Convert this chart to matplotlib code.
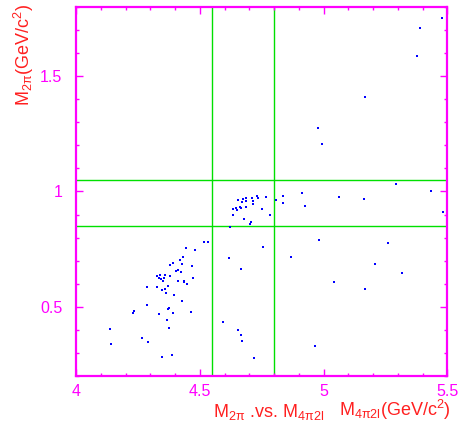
import matplotlib
matplotlib.use('Agg')
import matplotlib.pyplot as plt
from matplotlib.ticker import MultipleLocator, FuncFormatter

plt.rcParams['font.family'] = ['Liberation Sans', 'DejaVu Sans']
plt.rcParams['mathtext.fontset'] = 'custom'
plt.rcParams['mathtext.rm'] = 'Liberation Sans'
plt.rcParams['mathtext.it'] = 'Liberation Sans'
plt.rcParams['mathtext.default'] = 'regular'

# events: M(4pi 2l) on x, M(2pi) on y
m4pi2l = [4.620, 4.654, 4.671, 4.675, 4.687, 4.686, 4.711, 4.715, 4.732, 4.735,
          4.768, 4.837, 4.808, 4.836, 4.914, 4.925, 4.634, 4.646, 4.650, 4.662,
          4.666, 4.686, 4.715, 4.751, 4.633, 4.783, 4.677, 4.701, 4.705,
          5.294, 5.435, 5.483, 5.063, 5.164, 4.983, 5.258, 4.869, 5.208, 5.317,
          5.041, 5.166, 4.964, 4.756, 4.618, 4.666, 4.594, 4.654, 4.666, 4.669,
          4.717, 4.979, 4.994, 5.167, 5.375, 5.389, 5.479,
          4.518, 4.534, 4.445, 4.481, 4.432, 4.420, 4.392, 4.379, 4.428, 4.468,
          4.403, 4.411, 4.423, 4.379, 4.359, 4.338, 4.326, 4.334, 4.342, 4.354,
          4.350, 4.471, 4.411, 4.435, 4.435, 4.447, 4.370, 4.329, 4.361, 4.285,
          4.349, 4.365, 4.397, 4.429, 4.288, 4.376, 4.372, 4.235, 4.230, 4.336,
          4.392, 4.465, 4.367, 4.375, 4.137, 4.143, 4.265, 4.289, 4.349, 4.386]
m2pi = [0.848, 0.964, 0.955, 0.968, 0.972, 0.959, 0.971, 0.958, 0.980, 0.971,
        0.975, 0.982, 0.961, 0.952, 0.994, 0.937, 0.925, 0.929, 0.920, 0.933,
        0.929, 0.933, 0.945, 0.923, 0.899, 0.897, 0.881, 0.859, 0.868,
        1.031, 1.002, 0.910, 0.974, 0.968, 0.789, 0.776, 0.717, 0.686, 0.645,
        0.606, 0.578, 0.330, 0.758, 0.713, 0.665, 0.436, 0.401, 0.379, 0.353,
        0.278, 1.274, 1.205, 1.410, 1.588, 1.709, 1.751,
        0.780, 0.780, 0.755, 0.746, 0.716, 0.703, 0.691, 0.683, 0.686, 0.677,
        0.656, 0.661, 0.652, 0.635, 0.640, 0.640, 0.632, 0.627, 0.619, 0.623,
        0.614, 0.625, 0.613, 0.613, 0.608, 0.599, 0.592, 0.588, 0.579, 0.585,
        0.571, 0.562, 0.552, 0.526, 0.507, 0.497, 0.492, 0.482, 0.473, 0.467,
        0.475, 0.478, 0.445, 0.410, 0.406, 0.340, 0.364, 0.346, 0.285, 0.293]

# signal window cuts
cut_x = [4.55, 4.8]
cut_y = [0.85, 1.05]

magenta = '#ff00ff'
red = '#ff2020'

fig = plt.figure(figsize=(4.58, 4.25), dpi=100)
ax = fig.add_axes([0.166, 0.115, 0.811, 0.869])

for xc in cut_x:
    ax.axvline(xc, color='#00e000', lw=1.0, zorder=1)
for yc in cut_y:
    ax.axhline(yc, color='#00e000', lw=1.0, zorder=1)

ax.scatter(m4pi2l, m2pi, s=3.5, marker='s', color='#0000ff', linewidths=0, zorder=3)

ax.set_xlim(4.0, 5.5)
ax.set_ylim(0.2, 1.8)

ax.xaxis.set_major_locator(MultipleLocator(0.5))
ax.xaxis.set_minor_locator(MultipleLocator(0.1))
ax.yaxis.set_major_locator(MultipleLocator(0.5))
ax.yaxis.set_minor_locator(MultipleLocator(0.1))
fmt = FuncFormatter(lambda v, p: '%g' % v)
ax.xaxis.set_major_formatter(fmt)
ax.yaxis.set_major_formatter(fmt)

for s in ax.spines.values():
    s.set_color(magenta)
    s.set_linewidth(1.6)
ax.tick_params(which='both', direction='in', top=True, right=True,
               color=magenta, labelcolor=magenta, labelsize=11.5, width=1.0)
ax.tick_params(which='major', length=5)
ax.tick_params(which='minor', length=2.5)
ax.tick_params(axis='x', pad=6)
ax.tick_params(axis='y', pad=10)

fig.text(0.052, 0.99, r'M$_{2\pi}$(GeV/c$^2$)', rotation=90, ha='center', va='top',
         color=red, fontsize=13)
fig.text(0.465, 0.02, r'M$_{2\pi}$ .vs. M$_{4\pi 2l}$', ha='left', va='baseline',
         color=red, fontsize=13)
fig.text(0.984, 0.02, r'M$_{4\pi 2l}$(GeV/c$^2$)', ha='right', va='baseline',
         color=red, fontsize=13)

fig.savefig('out.png', dpi=100)
